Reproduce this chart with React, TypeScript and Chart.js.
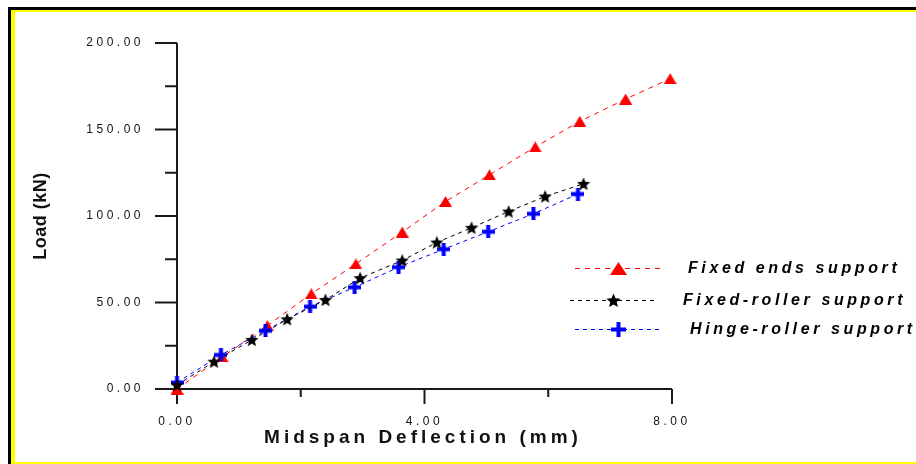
import React, { useEffect, useRef } from 'react';
import { Chart, registerables } from 'chart.js';

Chart.register(...registerables);

// ---------- data ----------
const fixedEndsX = [0, 0.73, 1.46, 2.17, 2.89, 3.64, 4.34, 5.05, 5.79, 6.51, 7.25, 7.97];
const fixedEndsY = [0, 18.5, 36.6, 55, 72.3, 90.7, 108.4, 123.8, 139.9, 154.7, 167.6, 179.4];

const fixedRollerX = [0, 0.6, 1.21, 1.78, 2.4, 2.96, 3.64, 4.2, 4.76, 5.36, 5.95, 6.57];
const fixedRollerY = [2.3, 15.8, 28.4, 40.3, 51.5, 64.1, 74.3, 84.7, 93.2, 102.6, 111.3, 118.6];

const hingeRollerX = [0, 0.71, 1.43, 2.15, 2.87, 3.58, 4.31, 5.03, 5.76, 6.48];
const hingeRollerY = [3.7, 19.7, 33.7, 47.6, 58.8, 70.4, 80.8, 90.9, 101.3, 112.7];

const seriesNames = ['Fixed ends support', 'Fixed-roller support', 'Hinge-roller support'];

const xTickValues = [0, 2, 4, 6, 8];
const xLabeledTicks = [0, 4, 8];
const yTickValues = [0, 25, 50, 75, 100, 125, 150, 175, 200];
const yLabeledTicks = [0, 50, 100, 150, 200];

const xTitle = 'Midspan Deflection (mm)';
const yTitle = 'Load (kN)';

// ---------- marker images ----------
function triangleMarker(w: number, h: number, color: string) {
  const c = document.createElement('canvas');
  c.width = w;
  c.height = h;
  const g = c.getContext('2d')!;
  g.fillStyle = color;
  g.beginPath();
  g.moveTo(w / 2, 0);
  g.lineTo(w, h);
  g.lineTo(0, h);
  g.closePath();
  g.fill();
  return c;
}

function starMarker(size: number, color: string) {
  const c = document.createElement('canvas');
  c.width = size;
  c.height = size;
  const g = c.getContext('2d')!;
  const cx = size / 2;
  const cy = size / 2 + 0.5;
  const R = size / 2;
  const r = R * 0.45;
  g.fillStyle = color;
  g.beginPath();
  for (let i = 0; i < 10; i++) {
    const ang = -Math.PI / 2 + (i * Math.PI) / 5;
    const rad = i % 2 === 0 ? R : r;
    const px = cx + Math.cos(ang) * rad;
    const py = cy + Math.sin(ang) * rad;
    if (i === 0) g.moveTo(px, py);
    else g.lineTo(px, py);
  }
  g.closePath();
  g.fill();
  return c;
}

function crossMarker(size: number, thick: number, color: string) {
  const c = document.createElement('canvas');
  c.width = size;
  c.height = size;
  const g = c.getContext('2d')!;
  g.fillStyle = color;
  const o = (size - thick) / 2;
  g.fillRect(0, o, size, thick);
  g.fillRect(o, 0, thick, size);
  return c;
}

const RED = '#ff0000';
const BLACK = '#000000';
const BLUE = '#0000ff';

export default function App() {
  const canvasRef = useRef<HTMLCanvasElement | null>(null);

  useEffect(() => {
    const canvas = canvasRef.current;
    if (!canvas) return;

    const triPlot = triangleMarker(13, 11, RED);
    const starPlot = starMarker(14, BLACK);
    const crossPlot = crossMarker(13, 4, BLUE);
    const triLegend = triangleMarker(17, 13, RED);
    const starLegend = starMarker(15, BLACK);
    const crossLegend = crossMarker(15, 4, BLUE);

    const toPoints = (xs: number[], ys: number[]) => xs.map((x, i) => ({ x, y: ys[i] }));

    const framePlugin = {
      id: 'frameAndAxes',
      beforeDraw(chart: any) {
        const ctx = chart.ctx as CanvasRenderingContext2D;
        const W = chart.width;
        const H = chart.height;
        ctx.save();
        ctx.fillStyle = '#ffffff';
        ctx.fillRect(0, 0, W, H);
        // black outer frame (top & left)
        ctx.fillStyle = '#000000';
        ctx.fillRect(8, 7, W - 8, 3);
        ctx.fillRect(8, 7, 3, H - 7);
        // yellow inner frame
        ctx.fillStyle = '#ffff00';
        ctx.fillRect(11, 10, W - 11, 2);
        ctx.fillRect(11, 10, 4, H - 10);
        ctx.fillRect(11, H - 2, W - 11, 2);
        ctx.restore();
        (ctx as any).letterSpacing = '3.5px';
      },
      beforeDatasetsDraw(chart: any) {
        const ctx = chart.ctx as CanvasRenderingContext2D;
        (ctx as any).letterSpacing = '0px';
        const xs = chart.scales.x;
        const ys = chart.scales.y;
        const x0 = xs.getPixelForValue(0);
        const y0 = ys.getPixelForValue(0);
        ctx.save();
        ctx.strokeStyle = '#1a1a1a';
        ctx.lineWidth = 2;
        ctx.beginPath();
        // y axis
        ctx.moveTo(x0, ys.getPixelForValue(200));
        ctx.lineTo(x0, y0);
        // x axis
        ctx.moveTo(x0, y0);
        ctx.lineTo(xs.getPixelForValue(8), y0);
        // y ticks (outward left)
        yTickValues.forEach((v) => {
          const py = ys.getPixelForValue(v);
          const len = yLabeledTicks.includes(v) ? 22 : 12;
          ctx.moveTo(x0 - len, py);
          ctx.lineTo(x0, py);
        });
        // x ticks (outward down)
        xTickValues.forEach((v) => {
          const px = xs.getPixelForValue(v);
          const len = xLabeledTicks.includes(v) ? 15 : 8;
          ctx.moveTo(px, y0);
          ctx.lineTo(px, y0 + len);
        });
        ctx.stroke();
        ctx.restore();
      },
      afterDraw(chart: any) {
        const ctx = chart.ctx as CanvasRenderingContext2D;
        ctx.save();
        // x title
        (ctx as any).letterSpacing = '4px';
        ctx.fillStyle = '#111111';
        ctx.font = 'bold 19px "Liberation Sans", Arial, sans-serif';
        ctx.textAlign = 'center';
        ctx.textBaseline = 'middle';
        ctx.fillText(xTitle, 423, 438);
        // y title
        (ctx as any).letterSpacing = '0.5px';
        ctx.font = 'bold 18px "Liberation Sans", Arial, sans-serif';
        ctx.save();
        ctx.translate(41, 216);
        ctx.rotate(-Math.PI / 2);
        ctx.fillText(yTitle, 0, 0);
        ctx.restore();

        // legend
        const rows = [
          { y: 268, x1: 575, x2: 661, mx: 618, color: RED, dash: [5, 5], img: triLegend, tx: 688 },
          { y: 300, x1: 570, x2: 657, mx: 613, color: BLACK, dash: [4, 4], img: starLegend, tx: 683 },
          { y: 329, x1: 575, x2: 661, mx: 618, color: BLUE, dash: [4, 4], img: crossLegend, tx: 690 },
        ];
        rows.forEach((r, i) => {
          ctx.save();
          ctx.strokeStyle = r.color;
          ctx.lineWidth = 1;
          ctx.setLineDash(r.dash);
          ctx.beginPath();
          ctx.moveTo(r.x1, r.y + 0.5);
          ctx.lineTo(r.x2, r.y + 0.5);
          ctx.stroke();
          ctx.restore();
          ctx.drawImage(r.img, Math.round(r.mx - r.img.width / 2), Math.round(r.y - r.img.height / 2));
          (ctx as any).letterSpacing = '3.6px';
          ctx.fillStyle = '#000000';
          ctx.font = 'italic bold 16px "Liberation Sans", Arial, sans-serif';
          ctx.textAlign = 'left';
          ctx.textBaseline = 'middle';
          ctx.fillText(seriesNames[i], r.tx, r.y + 1);
        });
        ctx.restore();
      },
    };

    const chart = new Chart(canvas, {
      type: 'scatter',
      data: {
        datasets: [
          {
            label: seriesNames[0],
            data: toPoints(fixedEndsX, fixedEndsY),
            showLine: true,
            borderColor: RED,
            backgroundColor: RED,
            borderWidth: 1,
            borderDash: [5, 5],
            pointStyle: triPlot as any,
            order: 2,
            clip: false as any,
          },
          {
            label: seriesNames[1],
            data: toPoints(fixedRollerX, fixedRollerY),
            showLine: true,
            borderColor: BLACK,
            backgroundColor: BLACK,
            borderWidth: 1,
            borderDash: [4, 4],
            pointStyle: starPlot as any,
            order: 0,
            clip: false as any,
          },
          {
            label: seriesNames[2],
            data: toPoints(hingeRollerX, hingeRollerY),
            showLine: true,
            borderColor: BLUE,
            backgroundColor: BLUE,
            borderWidth: 1,
            borderDash: [4, 4],
            pointStyle: crossPlot as any,
            order: 1,
            clip: false as any,
          },
        ],
      },
      options: {
        responsive: false,
        animation: false,
        events: [],
        layout: { padding: { top: 43, right: 244, left: 0, bottom: 0 } },
        plugins: {
          legend: { display: false },
          tooltip: { enabled: false },
        },
        scales: {
          x: {
            type: 'linear',
            min: 0,
            max: 8,
            grid: { display: false, drawTicks: false, tickLength: 0 },
            border: { display: false },
            afterFit: (s: any) => {
              s.height = 75;
            },
            ticks: {
              stepSize: 2,
              padding: 25,
              color: '#111111',
              font: { family: '"Liberation Sans", Arial, sans-serif', size: 12 },
              maxRotation: 0,
              autoSkip: false,
              callback: (v: any) => (xLabeledTicks.includes(Number(v)) ? Number(v).toFixed(2) : ''),
            },
          },
          y: {
            type: 'linear',
            min: 0,
            max: 200,
            grid: { display: false, drawTicks: false, tickLength: 0 },
            border: { display: false },
            afterFit: (s: any) => {
              s.width = 177;
            },
            ticks: {
              stepSize: 25,
              padding: 33,
              color: '#111111',
              font: { family: '"Liberation Sans", Arial, sans-serif', size: 12 },
              autoSkip: false,
              callback: (v: any) => (yLabeledTicks.includes(Number(v)) ? Number(v).toFixed(2) : ''),
            },
          },
        },
      },
      plugins: [framePlugin],
    } as any);

    return () => {
      chart.destroy();
    };
  }, []);

  return (
    <div style={{ position: 'absolute', left: 0, top: 0, width: 916, height: 464 }}>
      <canvas ref={canvasRef} width={916} height={464} style={{ display: 'block', width: 916, height: 464 }} />
    </div>
  );
}
